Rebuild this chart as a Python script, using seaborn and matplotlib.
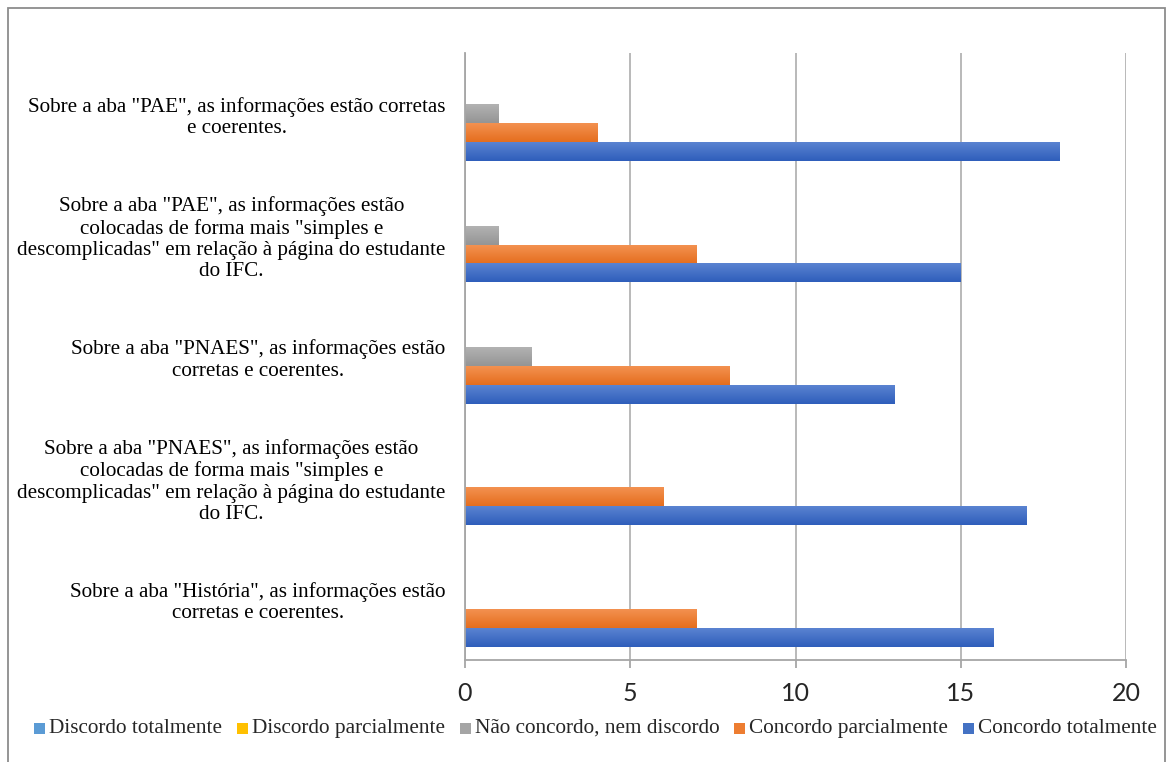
import numpy as np
import pandas as pd
import seaborn as sns
import matplotlib.pyplot as plt
from matplotlib.patches import Rectangle
from matplotlib.colors import to_rgb

sns.set_theme(style="white")
plt.rcParams['font.family'] = ['Liberation Serif', 'DejaVu Serif']

categories = [
    'Sobre a aba "PAE", as informações estão corretas\ne coerentes.',
    'Sobre a aba "PAE", as informações estão\ncolocadas de forma mais "simples e\n'
    'descomplicadas" em relação à página do estudante\ndo IFC.',
    'Sobre a aba "PNAES", as informações estão\ncorretas e coerentes.',
    'Sobre a aba "PNAES", as informações estão\ncolocadas de forma mais "simples e\n'
    'descomplicadas" em relação à página do estudante\ndo IFC.',
    'Sobre a aba "História", as informações estão\ncorretas e coerentes.',
]
series = [
    "Discordo totalmente",
    "Discordo parcialmente",
    "Não concordo, nem discordo",
    "Concordo parcialmente",
    "Concordo totalmente",
]
discordo_totalmente = [0, 0, 0, 0, 0]
discordo_parcialmente = [0, 0, 0, 0, 0]
nem_concordo_nem_discordo = [1, 1, 2, 0, 0]
concordo_parcialmente = [4, 7, 8, 6, 7]
concordo_totalmente = [18, 15, 13, 17, 16]
x_ticks = [0, 5, 10, 15, 20]

values = [discordo_totalmente, discordo_parcialmente, nem_concordo_nem_discordo,
          concordo_parcialmente, concordo_totalmente]
rows = []
for s, vals in zip(series, values):
    for c, v in zip(categories, vals):
        rows.append({"pergunta": c, "resposta": s, "valor": v})
df = pd.DataFrame(rows)

# base colours plus light/dark ends for the vertical gradient of each bar
colors = ["#5B9BD5", "#FFC000", "#A5A5A5", "#ED7D31", "#4472C4"]
grad_top = {"#5B9BD5": "#6FA8DC", "#FFC000": "#FFCC33", "#A5A5A5": "#B2B2B2",
            "#ED7D31": "#F39150", "#4472C4": "#5A83D1"}
grad_bot = {"#5B9BD5": "#4A8ACB", "#FFC000": "#F0B000", "#A5A5A5": "#959595",
            "#ED7D31": "#E56E1E", "#4472C4": "#2F5EBB"}

W, H = 1167, 762
fig = plt.figure(figsize=(W / 100, H / 100), dpi=100)
ax = fig.add_axes([465 / W, 1 - 660 / H, (1126 - 465) / W, (660 - 53) / H])

sns.barplot(data=df, x="valor", y="pergunta", hue="resposta", hue_order=series,
            order=categories, palette=colors, saturation=1, width=0.78,
            orient="h", linewidth=0, legend=False, ax=ax)

# overlay a soft vertical gradient on every visible bar
for patch in list(ax.patches):
    w = patch.get_width()
    if w <= 0:
        continue
    fc = patch.get_facecolor()
    key = min(colors, key=lambda c: sum((a - b) ** 2 for a, b in zip(to_rgb(c), fc[:3])))
    top = np.array(to_rgb(grad_top[key]))
    bot = np.array(to_rgb(grad_bot[key]))
    t = np.linspace(0, 1, 32)[:, None, None]
    img = top * (1 - t) + bot * t
    x0 = patch.get_x()
    y0 = patch.get_y()
    h = patch.get_height()
    ax.imshow(img, extent=[x0, x0 + w, y0 + h, y0], origin="upper",
              aspect="auto", interpolation="bilinear", zorder=patch.get_zorder() + 0.1)

ax.set_xlim(0, 20)
ax.set_ylim(4.5, -0.5)
ax.set_xticks(x_ticks)
ax.set_xticklabels([str(v) for v in x_ticks], fontfamily="Lato", fontsize=18)
ax.set_xlabel("")
ax.set_ylabel("")

ax.set_yticks(range(len(categories)))
ax.set_yticklabels(categories, multialignment="center", fontsize=15.2,
                   linespacing=1.16, color="#000000")
ax.set_yticks(np.arange(-0.5, len(categories), 1), minor=True)
ax.tick_params(axis="y", which="major", length=0, pad=14)
ax.tick_params(axis="y", which="minor", length=5, width=1.3, color="#a6a6a6", direction="out")
ax.tick_params(axis="x", length=6, width=1.3, color="#a6a6a6", direction="out", pad=10,
               bottom=True)

ax.xaxis.grid(True, color="#b3b3b3", linewidth=1.3)
ax.yaxis.grid(False)
ax.set_axisbelow(True)
for side in ("top", "right"):
    ax.spines[side].set_visible(False)
for side in ("left", "bottom"):
    ax.spines[side].set_color("#a6a6a6")
    ax.spines[side].set_linewidth(1.3)

# legend row: square keys with labels sharing one baseline, centred under the chart
renderer = fig.canvas.get_renderer()
key_size, key_gap, col_gap = 11, 4, 15
baseline = 29
legend_texts = [fig.text(0, baseline / H, s, fontsize=15.35, va="baseline", ha="left")
                for s in series]
widths = [t.get_window_extent(renderer).width for t in legend_texts]
total = sum(key_size + key_gap + w for w in widths) + col_gap * (len(series) - 1)
x = 595.5 - total / 2
for txt, w, c in zip(legend_texts, widths, colors):
    fig.patches.append(Rectangle((x / W, (baseline - 1) / H), key_size / W, key_size / H,
                                 transform=fig.transFigure, facecolor=c, edgecolor="none"))
    txt.set_x((x + key_size + key_gap) / W)
    x += key_size + key_gap + w + col_gap

# outer chart border
fig.patches.append(Rectangle((8 / W, -0.05), (1165 - 8) / W, 1.05 - 8 / H,
                             transform=fig.transFigure, fill=False,
                             edgecolor="#8c8c8c", linewidth=1.3))

fig.savefig("out.png", dpi=100)
